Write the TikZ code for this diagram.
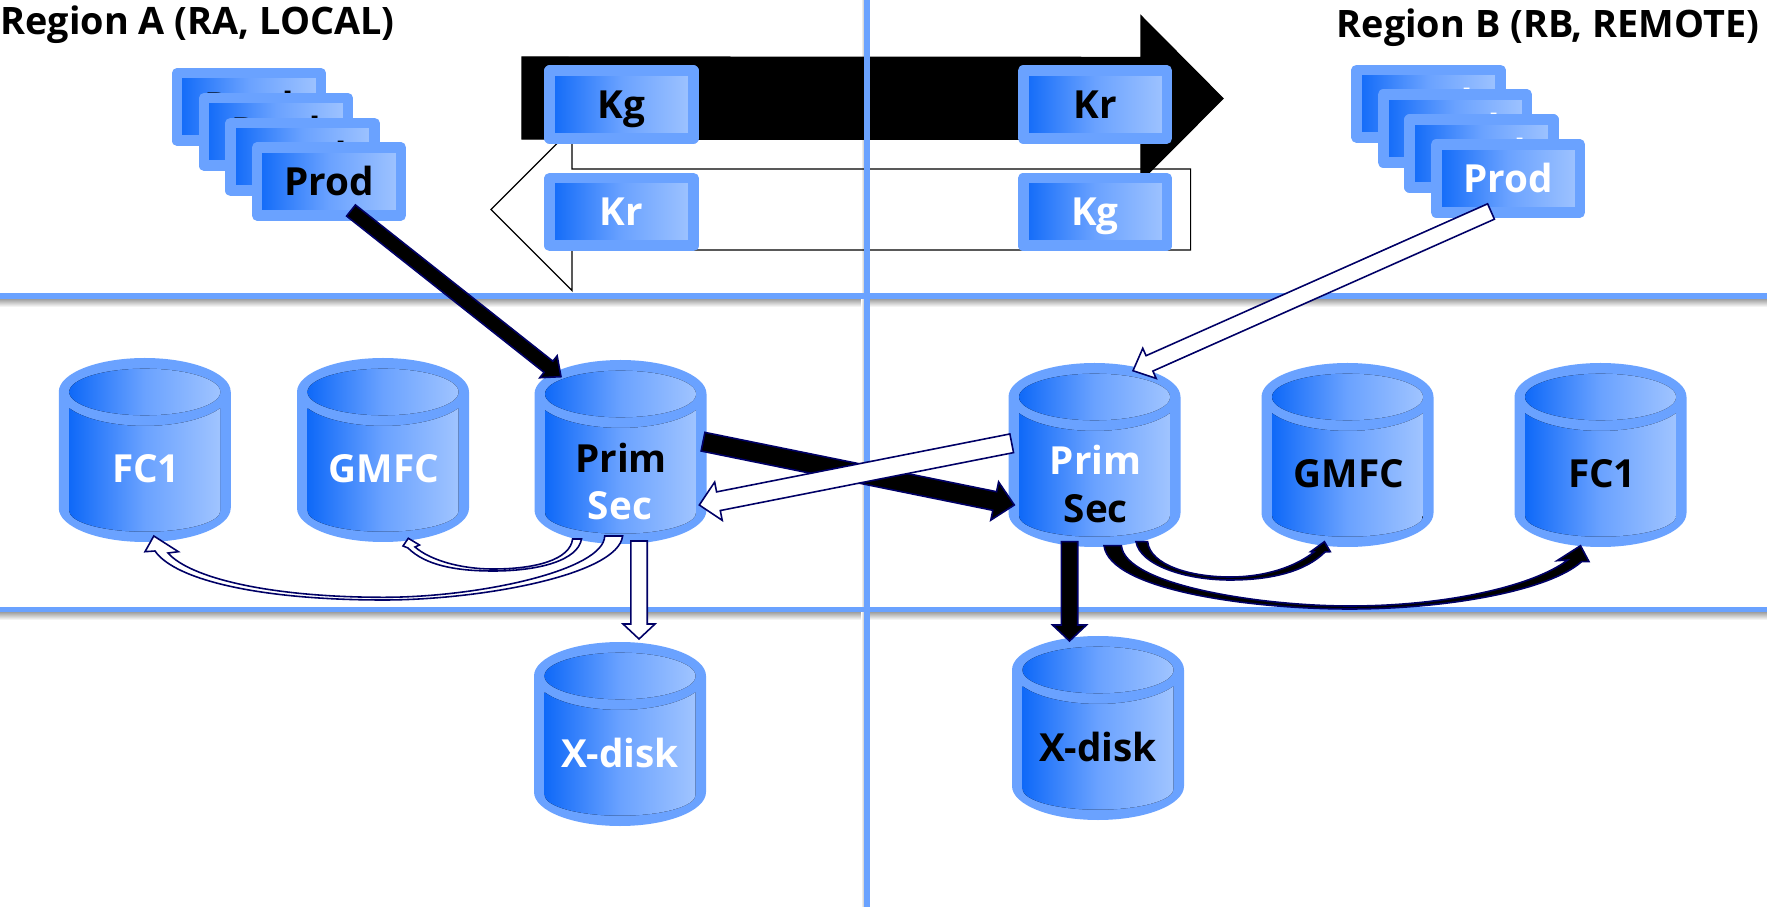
\documentclass[tikz,border=0pt]{standalone}
\usepackage{fontspec}
\setmainfont{Open Sans}
\usepackage{tikz}
\usetikzlibrary{calc}
\definecolor{ringblue}{HTML}{6AA2FF}
\definecolor{deepblue}{HTML}{0F69F8}
\definecolor{paleblue}{HTML}{A0C4FF}
\definecolor{arrownavy}{HTML}{000066}
\tikzset{
    bluefade/.style={left color=deepblue,right color=paleblue,middle color=ringblue},
    ring/.style={draw=ringblue,line width=3pt,line join=round},
    prodbox/.style={ring,bluefade,rectangle,minimum width=1.435cm,minimum height=.675cm,inner sep=0pt,
        font=\bfseries\fontsize{11}{12}\selectfont,text height=8pt,text depth=.3pt,text=#1},
    prodbox/.default=black,
    disklabel/.style={anchor=base,inner sep=0pt,font=\bfseries\fontsize{11}{12}\selectfont,text=#1},
    disklabel/.default=black,
    regionlabel/.style={inner sep=0pt,font=\bfseries\fontsize{10.75}{11}\selectfont},
    divider/.style={fill=ringblue,draw=none},
    dividershadow/.style={draw=none,top color=gray!75,bottom color=white},
    blackarr/.style={draw=arrownavy,fill=black,line width=.45pt,line join=miter},
    whitearr/.style={draw=arrownavy,fill=white,line width=.45pt,line join=miter},
    bigblack/.style={draw=black,fill=black,line width=.35pt},
    bigwhite/.style={draw=black,line width=.35pt},
}
% #1 left edge, #2 top edge
\newcommand{\diskshape}[2]{
    \begin{scope}[shift={(#1,#2)}]
        \fill[ringblue] (0,34) arc[start angle=180,end angle=360,x radius=86,y radius=34] -- (172,150)
            arc[start angle=0,end angle=180,x radius=86,y radius=34] -- cycle;
        \fill[bluefade] (10.7,50.4) arc[start angle=151.1,end angle=28.9,x radius=86,y radius=34] -- (161.3,153)
            arc[start angle=0,end angle=180,x radius=75.3,y radius=20.7] -- cycle;
        \fill[bluefade] (86,34) ellipse[x radius=75.5,y radius=23.3];
    \end{scope}
}
% #1 style, #2 from, #3 to, #4 half shaft, #5 head length, #6 half head
\newcommand{\blockarr}[6]{
    \coordinate (headbase) at ($(#3)!#5!(#2)$);
    \draw[#1] ($(#2)!#4!90:(#3)$) -- ($(headbase)!#4!90:(#3)$) -- ($(headbase)!#6!90:(#3)$) -- (#3)
        -- ($(headbase)!#6!-90:(#3)$) -- ($(headbase)!#4!-90:(#3)$) -- ($(#2)!#4!-90:(#3)$) -- cycle;
}
\begin{document}
\begin{tikzpicture}[x=0.01cm,y=-0.01cm]
    \useasboundingbox (0,0) rectangle (1767,907);
    \fill[white] (0,0) rectangle (1767,907);

    % shadows of the dividers
    \fill[dividershadow] (0,299) rectangle (1767,307);
    \fill[dividershadow] (0,612) rectangle (1767,620);
    \fill[left color=white,right color=gray!45,draw=none] (861,0) rectangle (864,907);

    % the two wide arrows behind the key boxes
    \coordinate (whitestart) at (1190.6,209.5);
    \coordinate (whitetip) at (491,209.5);
    \coordinate (blackstart) at (522,98);
    \coordinate (blacktip) at (1223,98.5);
    \blockarr{bigwhite}{whitestart}{whitetip}{.405cm}{.81cm}{.81cm}
    \blockarr{bigblack}{blackstart}{blacktip}{.41cm}{.82cm}{.825cm}

    % dividers
    \fill[divider] (0,293.3) rectangle (1767,299.3);
    \fill[divider] (0,606.7) rectangle (1767,612.3);
    \fill[divider] (863.5,0) rectangle (869.5,907);

    % region titles
    \node[regionlabel,anchor=base west] (regionA) at (0,35) {Region A (RA, LOCAL)};
    \node[regionlabel,anchor=base east] (regionB) at (1760,38) {Region B (RB, REMOTE)};

    % key boxes
    \node[prodbox] (kgA) at (621.5,104.5) {Kg};
    \node[prodbox] (krB) at (1095,104.5) {Kr};
    \node[prodbox=white] (krA) at (621.5,212) {Kr};
    \node[prodbox=white] (kgB) at (1095,212) {Kg};

    % producer stacks
    \node[prodbox] (prodAa) at (249,107) {Prod};
    \node[prodbox] (prodAb) at (276,132) {Prod};
    \node[prodbox] (prodAc) at (302.5,157) {Prod};
    \node[prodbox] (prodA) at (329,181.5) {Prod};
    \node[prodbox=white] (prodBa) at (1428.5,103.7) {Prod};
    \node[prodbox=white] (prodBb) at (1455,128.5) {Prod};
    \node[prodbox=white] (prodBc) at (1481.5,153.5) {Prod};
    \node[prodbox=white] (prodB) at (1508,178.5) {Prod};

    % disks
    \diskshape{58.75}{358}
    \diskshape{297}{358}
    \diskshape{534.5}{360}
    \diskshape{534}{642}
    \diskshape{1008.5}{363}
    \diskshape{1261.5}{363}
    \diskshape{1514.5}{363}
    \diskshape{1012}{636}
    \node[disklabel=white] (fcA) at (146,483) {FC1};
    \node[disklabel=white] (gmfcA) at (383.7,483) {GMFC};
    \node[disklabel] (primA) at (621,472.7) {Prim};
    \node[disklabel=white] (secA) at (620,520) {Sec};
    \node[disklabel=white] (xdiskA) at (620,767.7) {X-disk};
    \node[disklabel=white] (primB) at (1095.7,475) {Prim};
    \node[disklabel] (secB) at (1095.7,522.3) {Sec};
    \node[disklabel] (gmfcB) at (1348.7,488) {GMFC};
    \node[disklabel] (fcB) at (1602,488) {FC1};
    \node[disklabel] (xdiskB) at (1098,761.7) {X-disk};

    % straight arrows
    \coordinate (prodAout) at (351,210.5);
    \coordinate (primAin) at (561,376.7);
    \coordinate (prodBout) at (1491,211.5);
    \coordinate (primBin) at (1133,370.7);
    \coordinate (primAout) at (703,441.7);
    \coordinate (primBcross) at (1014.3,505);
    \coordinate (primBout) at (1011.7,443.3);
    \coordinate (primAcross) at (699.3,505);
    \coordinate (secAdown) at (639,541);
    \coordinate (xdiskAin) at (639,639);
    \coordinate (secBdown) at (1069.5,541.7);
    \coordinate (xdiskBin) at (1069.5,641);
    \blockarr{blackarr}{prodAout}{primAin}{.071cm}{.16cm}{.14cm}
    \blockarr{whitearr}{prodBout}{primBin}{.084cm}{.18cm}{.165cm}
    \blockarr{blackarr}{primAout}{primBcross}{.095cm}{.2cm}{.195cm}
    \blockarr{whitearr}{primBout}{primAcross}{.095cm}{.195cm}{.195cm}
    \blockarr{whitearr}{secAdown}{xdiskAin}{.082cm}{.15cm}{.16cm}
    \blockarr{blackarr}{secBdown}{xdiskBin}{.082cm}{.16cm}{.17cm}

    % curved arrows below the Sec disks
    \coordinate (gmfcAtip) at (408.3,538.3);
    \coordinate (fcAtip) at (153.8,536);
    \coordinate (gmfcBtip) at (1324.4,541.7);
    \coordinate (fcBtip) at (1580.5,545.7);
    \draw[whitearr] (581.5,539) .. controls (578,560) and (540,571) .. (493,571)
        .. controls (455,571) and (425,565) .. (408,548) -- (403,546) -- (gmfcAtip) -- (419.5,545) -- (415,547)
        .. controls (430,560) and (460,569) .. (493,569)
        .. controls (535,569) and (570,560) .. (572.6,539) -- cycle;
    \draw[whitearr] (622.6,536) .. controls (618,575) and (480,600) .. (383.7,600)
        .. controls (260,600) and (175,580) .. (155,551) -- (145,551.7) -- (fcAtip) -- (178.4,551.7) -- (168,553)
        .. controls (190,578) and (270,597.3) .. (383.7,597.3)
        .. controls (480,597.3) and (604,570) .. (604.7,536) -- cycle;
    \draw[blackarr] (1136,541.7) .. controls (1140,565) and (1185,580) .. (1230,580)
        .. controls (1270,580) and (1305,572) .. (1325,552) -- (1330.3,551.7) -- (gmfcBtip) -- (1310.6,551.7) -- (1314,552)
        .. controls (1295,567) and (1265,577) .. (1230,577)
        .. controls (1190,577) and (1150,565) .. (1147.6,541.7) -- cycle;
    \draw[blackarr] (1104,545.7) .. controls (1110,590) and (1250,609) .. (1349.6,609)
        .. controls (1450,609) and (1550,590) .. (1581.5,561.7) -- (1589,561.7) -- (fcBtip) -- (1557,560.7) -- (1567.7,560)
        .. controls (1535,585) and (1450,606) .. (1349.6,606)
        .. controls (1260,606) and (1125,585) .. (1121.4,545.7) -- cycle;
\end{tikzpicture}
\end{document}
